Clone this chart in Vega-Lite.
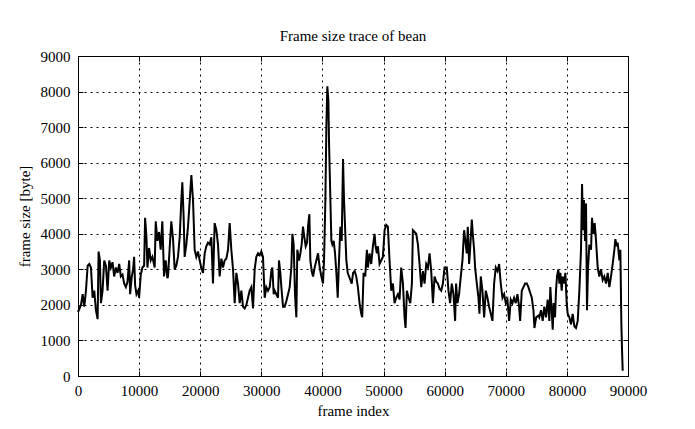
{
  "$schema": "https://vega.github.io/schema/vega-lite/v6.json",
  "width": 550,
  "height": 320,
  "autosize": {"type": "none"},
  "padding": {"left": 78, "top": 56, "right": 67, "bottom": 53},
  "background": "white",
  "config": {
    "font": "Liberation Serif",
    "view": {"stroke": null},
    "axis": {"labelFont": "Liberation Serif", "titleFont": "Liberation Serif", "labelFontSize": 15, "titleFontSize": 15, "titleFontWeight": "normal", "labelColor": "black", "titleColor": "black", "domainColor": "black", "tickColor": "black", "gridColor": "black", "gridOpacity": 1, "gridDash": [2, 4], "gridWidth": 1, "tickSize": -5}
  },
  "title": {"text": "Frame size trace of bean", "font": "Liberation Serif", "fontSize": 15, "fontWeight": "normal", "color": "black", "offset": 5},
  "data": {"values": [
{"frame":0,"size":1800},{"frame":490,"size":2000},{"frame":760,"size":2300},{"frame":1030,"size":1950},{"frame":1300,"size":2400},{"frame":1580,"size":3100},{"frame":1850,"size":3150},{"frame":2120,"size":3050},{"frame":2390,"size":2200},{"frame":2660,"size":2400},{"frame":2930,"size":1850},{"frame":3210,"size":1600},{"frame":3370,"size":3500},{"frame":3590,"size":3250},{"frame":3750,"size":2050},{"frame":4020,"size":2400},{"frame":4290,"size":3250},{"frame":4570,"size":3100},{"frame":4840,"size":2400},{"frame":5110,"size":3250},{"frame":5380,"size":3050},{"frame":5650,"size":3200},{"frame":5920,"size":2800},{"frame":6200,"size":3050},{"frame":6470,"size":2900},{"frame":6740,"size":3150},{"frame":7010,"size":2800},{"frame":7280,"size":2850},{"frame":7550,"size":2600},{"frame":7830,"size":2500},{"frame":8100,"size":2650},{"frame":8370,"size":3250},{"frame":8530,"size":2300},{"frame":8800,"size":2800},{"frame":9020,"size":3000},{"frame":9180,"size":3350},{"frame":9350,"size":2550},{"frame":9570,"size":2300},{"frame":9840,"size":2400},{"frame":10000,"size":2200},{"frame":10270,"size":2850},{"frame":10540,"size":3050},{"frame":10820,"size":3100},{"frame":10980,"size":4450},{"frame":11200,"size":3900},{"frame":11360,"size":3050},{"frame":11630,"size":3600},{"frame":11900,"size":3250},{"frame":12170,"size":3350},{"frame":12550,"size":3050},{"frame":12720,"size":4350},{"frame":12990,"size":3800},{"frame":13260,"size":4050},{"frame":13530,"size":3550},{"frame":13800,"size":4350},{"frame":14080,"size":2800},{"frame":14350,"size":3250},{"frame":14620,"size":2750},{"frame":14730,"size":2800},{"frame":15000,"size":3600},{"frame":15270,"size":4350},{"frame":15550,"size":3850},{"frame":15820,"size":3000},{"frame":16090,"size":3100},{"frame":16360,"size":3350},{"frame":16640,"size":3900},{"frame":16910,"size":4950},{"frame":17070,"size":5450},{"frame":17290,"size":4450},{"frame":17450,"size":3350},{"frame":17730,"size":3700},{"frame":18000,"size":4200},{"frame":18270,"size":4900},{"frame":18550,"size":5650},{"frame":18820,"size":4950},{"frame":19090,"size":3550},{"frame":19360,"size":3350},{"frame":19640,"size":3500},{"frame":19910,"size":3250},{"frame":20180,"size":3050},{"frame":20450,"size":2900},{"frame":20730,"size":3450},{"frame":21000,"size":3650},{"frame":21270,"size":3750},{"frame":21550,"size":3700},{"frame":21820,"size":3900},{"frame":22090,"size":2600},{"frame":22360,"size":4300},{"frame":22640,"size":4100},{"frame":22910,"size":3700},{"frame":23180,"size":2800},{"frame":23460,"size":3300},{"frame":23730,"size":3050},{"frame":24000,"size":3250},{"frame":24270,"size":3300},{"frame":24550,"size":3550},{"frame":24820,"size":4300},{"frame":25090,"size":3550},{"frame":25370,"size":3000},{"frame":25640,"size":2050},{"frame":25910,"size":2900},{"frame":26180,"size":2600},{"frame":26460,"size":2050},{"frame":26730,"size":2400},{"frame":27000,"size":1950},{"frame":27270,"size":1900},{"frame":27550,"size":2000},{"frame":27820,"size":2200},{"frame":28090,"size":2400},{"frame":28370,"size":2500},{"frame":28640,"size":1900},{"frame":28910,"size":3000},{"frame":29180,"size":3350},{"frame":29460,"size":3450},{"frame":29730,"size":3400},{"frame":30000,"size":3500},{"frame":30270,"size":3350},{"frame":30550,"size":2200},{"frame":30820,"size":2500},{"frame":31090,"size":2400},{"frame":31370,"size":2500},{"frame":31640,"size":2950},{"frame":31800,"size":3050},{"frame":32020,"size":2300},{"frame":32180,"size":2400},{"frame":32460,"size":2300},{"frame":32730,"size":2200},{"frame":32890,"size":3250},{"frame":33110,"size":2900},{"frame":33280,"size":2500},{"frame":33550,"size":1950},{"frame":33820,"size":1950},{"frame":34090,"size":2100},{"frame":34370,"size":2300},{"frame":34640,"size":2500},{"frame":34910,"size":3050},{"frame":35080,"size":4000},{"frame":35290,"size":3700},{"frame":35510,"size":2300},{"frame":35730,"size":1650},{"frame":35890,"size":3550},{"frame":36170,"size":3250},{"frame":36390,"size":3450},{"frame":36600,"size":3700},{"frame":36820,"size":4200},{"frame":37040,"size":3900},{"frame":37260,"size":3650},{"frame":37480,"size":3750},{"frame":37640,"size":4200},{"frame":37860,"size":4550},{"frame":38020,"size":3250},{"frame":38240,"size":2950},{"frame":38460,"size":2800},{"frame":38730,"size":3050},{"frame":39000,"size":3250},{"frame":39280,"size":3450},{"frame":39550,"size":3050},{"frame":39820,"size":2800},{"frame":40090,"size":2600},{"frame":40260,"size":3250},{"frame":40480,"size":4950},{"frame":40640,"size":7000},{"frame":40800,"size":8150},{"frame":40970,"size":7750},{"frame":41080,"size":6550},{"frame":41300,"size":4950},{"frame":41460,"size":3800},{"frame":41620,"size":3700},{"frame":41840,"size":3800},{"frame":42060,"size":3450},{"frame":42280,"size":2900},{"frame":42500,"size":2200},{"frame":42710,"size":3250},{"frame":42930,"size":4200},{"frame":43150,"size":3800},{"frame":43370,"size":6100},{"frame":43530,"size":4950},{"frame":43700,"size":4200},{"frame":43910,"size":3250},{"frame":44130,"size":2900},{"frame":44350,"size":2800},{"frame":44570,"size":2700},{"frame":44790,"size":2600},{"frame":45010,"size":2900},{"frame":45280,"size":2950},{"frame":45530,"size":2800},{"frame":45800,"size":2500},{"frame":46070,"size":2050},{"frame":46350,"size":1750},{"frame":46510,"size":1650},{"frame":46730,"size":2900},{"frame":47000,"size":2800},{"frame":47270,"size":3550},{"frame":47440,"size":3050},{"frame":47710,"size":3450},{"frame":47980,"size":3150},{"frame":48260,"size":3650},{"frame":48530,"size":4000},{"frame":48690,"size":3650},{"frame":48910,"size":3450},{"frame":49070,"size":3650},{"frame":49350,"size":3150},{"frame":49620,"size":3250},{"frame":49890,"size":3350},{"frame":50170,"size":4100},{"frame":50440,"size":4250},{"frame":50710,"size":4200},{"frame":50980,"size":3250},{"frame":51260,"size":2400},{"frame":51530,"size":2600},{"frame":51800,"size":2050},{"frame":52070,"size":2200},{"frame":52350,"size":2300},{"frame":52620,"size":2150},{"frame":52890,"size":3050},{"frame":53170,"size":2600},{"frame":53440,"size":1650},{"frame":53600,"size":1350},{"frame":53820,"size":2400},{"frame":54090,"size":2200},{"frame":54370,"size":2050},{"frame":54640,"size":2600},{"frame":54800,"size":4100},{"frame":55070,"size":4050},{"frame":55350,"size":4000},{"frame":55620,"size":3700},{"frame":55890,"size":3150},{"frame":56170,"size":2500},{"frame":56440,"size":2950},{"frame":56710,"size":2600},{"frame":56980,"size":3150},{"frame":57260,"size":3050},{"frame":57530,"size":3450},{"frame":57800,"size":2950},{"frame":58080,"size":2050},{"frame":58350,"size":2800},{"frame":58620,"size":2650},{"frame":58890,"size":2600},{"frame":59170,"size":2450},{"frame":59440,"size":2400},{"frame":59710,"size":2600},{"frame":59980,"size":3050},{"frame":60350,"size":3050},{"frame":60620,"size":2400},{"frame":60890,"size":2050},{"frame":61160,"size":2600},{"frame":61440,"size":2300},{"frame":61710,"size":1550},{"frame":61870,"size":2600},{"frame":62090,"size":2050},{"frame":62360,"size":2300},{"frame":62640,"size":2800},{"frame":62910,"size":3250},{"frame":63180,"size":4100},{"frame":63350,"size":3850},{"frame":63620,"size":3450},{"frame":63780,"size":4200},{"frame":64000,"size":3150},{"frame":64160,"size":3550},{"frame":64440,"size":4400},{"frame":64600,"size":4000},{"frame":64820,"size":3550},{"frame":64980,"size":3050},{"frame":65260,"size":2600},{"frame":65530,"size":2200},{"frame":65690,"size":1750},{"frame":65910,"size":2800},{"frame":66180,"size":2400},{"frame":66460,"size":1650},{"frame":66730,"size":2400},{"frame":67000,"size":2200},{"frame":67270,"size":1950},{"frame":67550,"size":1750},{"frame":67820,"size":1550},{"frame":68090,"size":2600},{"frame":68360,"size":3050},{"frame":68640,"size":2950},{"frame":68910,"size":3150},{"frame":69180,"size":2600},{"frame":69460,"size":2200},{"frame":69730,"size":2300},{"frame":70000,"size":2050},{"frame":70270,"size":2150},{"frame":70550,"size":1550},{"frame":70820,"size":2150},{"frame":71090,"size":2050},{"frame":71360,"size":2200},{"frame":71640,"size":2050},{"frame":71910,"size":2300},{"frame":72180,"size":1950},{"frame":72350,"size":1550},{"frame":72620,"size":2400},{"frame":72890,"size":2500},{"frame":73160,"size":2600},{"frame":73440,"size":2600},{"frame":73710,"size":2500},{"frame":73980,"size":2350},{"frame":74260,"size":2200},{"frame":74530,"size":1850},{"frame":74690,"size":1350},{"frame":74970,"size":1650},{"frame":75350,"size":1700},{"frame":75490,"size":1650},{"frame":75770,"size":1850},{"frame":76040,"size":1550},{"frame":76310,"size":1950},{"frame":76580,"size":1650},{"frame":76860,"size":2150},{"frame":77130,"size":1550},{"frame":77290,"size":2500},{"frame":77510,"size":1850},{"frame":77680,"size":1300},{"frame":77840,"size":2050},{"frame":78060,"size":1650},{"frame":78220,"size":2400},{"frame":78380,"size":2800},{"frame":78600,"size":3000},{"frame":78770,"size":2600},{"frame":78930,"size":2900},{"frame":79150,"size":2400},{"frame":79310,"size":2800},{"frame":79580,"size":2600},{"frame":79750,"size":2900},{"frame":79970,"size":2050},{"frame":80130,"size":1750},{"frame":80400,"size":1650},{"frame":80680,"size":1450},{"frame":80950,"size":1750},{"frame":81220,"size":1400},{"frame":81490,"size":1350},{"frame":81770,"size":1550},{"frame":82040,"size":2400},{"frame":82310,"size":3550},{"frame":82480,"size":5400},{"frame":82640,"size":4100},{"frame":82800,"size":4950},{"frame":82970,"size":3800},{"frame":83130,"size":4850},{"frame":83290,"size":1850},{"frame":83460,"size":3050},{"frame":83680,"size":3700},{"frame":83950,"size":3550},{"frame":84110,"size":4450},{"frame":84330,"size":4000},{"frame":84550,"size":4300},{"frame":84770,"size":3800},{"frame":85040,"size":3050},{"frame":85310,"size":2800},{"frame":85580,"size":3000},{"frame":85860,"size":2700},{"frame":86130,"size":2800},{"frame":86400,"size":2600},{"frame":86680,"size":2900},{"frame":86950,"size":2500},{"frame":87220,"size":2800},{"frame":87490,"size":3150},{"frame":87770,"size":3550},{"frame":87930,"size":3850},{"frame":88150,"size":3650},{"frame":88310,"size":3750},{"frame":88590,"size":3250},{"frame":88750,"size":3550},{"frame":88910,"size":1500},{"frame":89020,"size":750},{"frame":89130,"size":150}
  ]},
  "layer": [
    {
      "mark": {"type": "line", "color": "black", "strokeWidth": 2, "strokeJoin": "miter"},
      "encoding": {
        "x": {"field": "frame", "type": "quantitative", "scale": {"domain": [0, 90000], "nice": false},
              "axis": {"title": "frame index", "values": [0,10000,20000,30000,40000,50000,60000,70000,80000,90000], "format": "d", "grid": true, "labelPadding": 12, "titlePadding": 5, "labelFlush": false}},
        "y": {"field": "size", "type": "quantitative", "scale": {"domain": [0, 9000], "nice": false},
              "axis": {"title": "frame size [byte]", "values": [0,1000,2000,3000,4000,5000,6000,7000,8000,9000], "format": "d", "grid": true, "labelPadding": 13, "titlePadding": 8, "labelFlush": false}}
      }
    },
    {
      "mark": {"type": "line", "strokeOpacity": 0},
      "encoding": {
        "x": {"field": "frame", "type": "quantitative", "axis": {"orient": "top", "title": null, "labels": false, "grid": false, "values": [0,10000,20000,30000,40000,50000,60000,70000,80000,90000]}},
        "y": {"field": "size", "type": "quantitative", "axis": {"orient": "right", "title": null, "labels": false, "grid": false, "values": [0,1000,2000,3000,4000,5000,6000,7000,8000,9000]}}
      }
    }
  ],
  "resolve": {"axis": {"x": "independent", "y": "independent"}}
}
